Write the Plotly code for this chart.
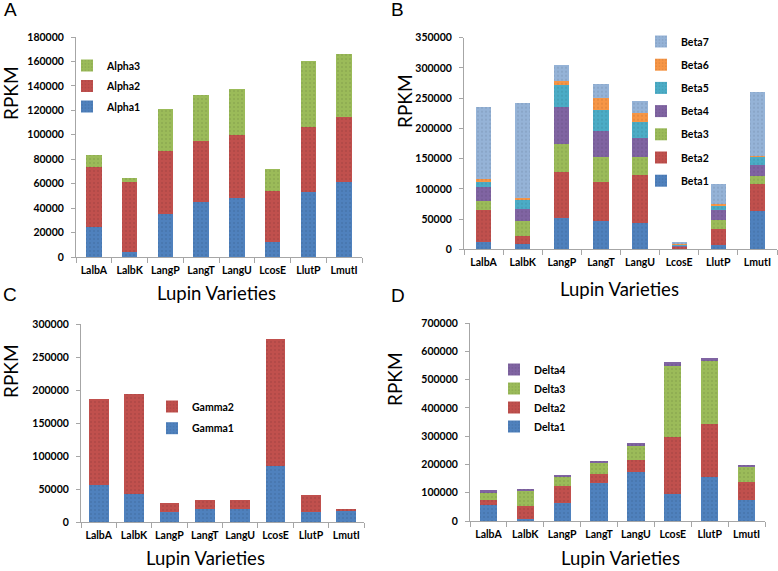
import plotly.graph_objects as go

varieties = ["LalbA", "LalbK", "LangP", "LangT", "LangU", "LcosE", "LlutP", "LmutI"]

# Panel A
alpha1 = [24500, 4000, 35500, 45300, 48300, 12300, 52900, 61400]
alpha2 = [49000, 57000, 51200, 49300, 51700, 41400, 53700, 53100]
alpha3 = [10200, 4000, 34100, 37900, 37700, 18000, 53800, 51300]

# Panel B
beta1 = [12700, 8300, 51300, 46300, 44000, 2000, 7000, 62800]
beta2 = [52300, 14300, 77100, 65700, 79500, 3000, 27000, 45800]
beta3 = [15000, 23700, 45800, 40700, 29200, 500, 14500, 13200]
beta4 = [23600, 20400, 60600, 43000, 30900, 2000, 16500, 18200]
beta5 = [8400, 16000, 37000, 34700, 26400, 500, 8300, 14400]
beta6 = [4000, 2300, 6600, 20400, 15000, 300, 1700, 600]
beta7 = [119000, 156500, 25900, 22600, 20300, 4500, 33000, 104600]

# Panel C
gamma1 = [56000, 42000, 15700, 19200, 19200, 85000, 15200, 17700]
gamma2 = [130000, 152700, 13600, 13700, 14200, 192000, 25300, 1000]

# Panel D
delta1 = [57600, 6000, 63500, 135300, 171800, 96500, 155300, 75300]
delta2 = [16400, 47000, 60000, 31700, 43500, 201100, 187100, 62300]
delta3 = [28000, 56400, 35300, 36500, 49400, 249400, 222300, 56400]
delta4 = [6000, 3600, 3600, 8300, 10600, 14000, 10600, 3600]

BLUE, RED, GREEN, PURPLE = "#4F81BD", "#C0504D", "#9BBB59", "#8064A2"
TEAL, ORANGE, LIGHT = "#4BACC6", "#F79646", "#95B3D7"

W, H = 778, 571
def px_x(x):
    return x / W
def px_y(y):
    return 1 - y / H

FONT = "Lato"
AXC = "#A6A6A6"

panels = [
    # suffix, x0, x1, ybottom, ytop, ymax, dtick, barwidth, legend
    ("", 76, 362, 257, 37, 180000, 20000, 0.43, "legend"),
    ("2", 464, 777, 249.3, 37.7, 350000, 50000, 0.39, "legend2"),
    ("3", 81, 364, 522, 324, 300000, 50000, 0.56, "legend3"),
    ("4", 470, 765, 521, 323, 700000, 100000, 0.47, "legend4"),
]

series = [
    [("Alpha1", alpha1, BLUE), ("Alpha2", alpha2, RED), ("Alpha3", alpha3, GREEN)],
    [("Beta1", beta1, BLUE), ("Beta2", beta2, RED), ("Beta3", beta3, GREEN),
     ("Beta4", beta4, PURPLE), ("Beta5", beta5, TEAL), ("Beta6", beta6, ORANGE),
     ("Beta7", beta7, LIGHT)],
    [("Gamma1", gamma1, BLUE), ("Gamma2", gamma2, RED)],
    [("Delta1", delta1, BLUE), ("Delta2", delta2, RED), ("Delta3", delta3, GREEN),
     ("Delta4", delta4, PURPLE)],
]

tickfont = dict(family=FONT, size=10.5, color="#000", weight="bold")

fig = go.Figure()
layout = {}
for (suf, x0, x1, yb, yt, ymax, dt, bw, leg), ser in zip(panels, series):
    for i, (name, vals, col) in enumerate(ser):
        fig.add_trace(go.Bar(
            x=varieties, y=vals, name=name, width=bw,
            marker=dict(color=col, line=dict(width=0),
                        pattern=dict(shape=".", fgcolor="#000000", fgopacity=0.09,
                                     size=4, solidity=0.2)),
            xaxis="x" + suf, yaxis="y" + suf, legend=leg, legendgroup=name,
            legendrank=100 - i,
        ))
    layout["xaxis" + suf] = dict(
        domain=[px_x(x0), px_x(x1)], anchor="y" + suf, type="category",
        range=[-0.5, 7.5], showline=True, linecolor=AXC, linewidth=1,
        ticks="outside", tickson="boundaries", ticklen=5, tickcolor=AXC,
        showgrid=False, zeroline=False, tickangle=0, automargin=False,
        ticklabelstandoff=3, tickfont=tickfont,
    )
    layout["yaxis" + suf] = dict(
        domain=[px_y(yb), px_y(yt)], anchor="x" + suf, range=[0, ymax],
        dtick=dt, tick0=0, tickformat="d", showline=True, linecolor=AXC,
        linewidth=1, ticks="outside", ticklen=4, tickcolor=AXC,
        showgrid=False, zeroline=False, automargin=False,
        ticklabelstandoff=5, tickfont=tickfont,
    )

legfont = dict(family=FONT, size=10.5, color="#000", weight="bold")
def mk_leg(x, y, gap):
    return dict(x=px_x(x), y=px_y(y), xanchor="left", yanchor="top",
                traceorder="grouped", tracegroupgap=gap,
                bgcolor="rgba(0,0,0,0)", font=legfont, itemwidth=30)

layout["legend"] = mk_leg(67, 51, 1.5)
layout["legend2"] = mk_leg(641, 27, 4.2)
layout["legend3"] = mk_leg(152, 392, 2.7)
layout["legend4"] = mk_leg(494, 355, 0)

ann = []
for t, x, y in [("A", 10, 9), ("B", 398, 9), ("C", 10, 294), ("D", 398, 296)]:
    ann.append(dict(text=t, x=px_x(x), y=px_y(y), xref="paper", yref="paper",
                    showarrow=False, xanchor="center", yanchor="middle",
                    font=dict(family="Liberation Sans", size=19, color="#000")))
for x, y in [(11, 93), (404, 101), (10, 371), (394, 379)]:
    ann.append(dict(text="RPKM", x=px_x(x), y=px_y(y), xref="paper", yref="paper",
                    showarrow=False, xanchor="center", yanchor="middle", textangle=-90,
                    font=dict(family=FONT, size=19, color="#000")))
for x, y in [(217, 293), (619, 289), (205, 558), (620, 558)]:
    ann.append(dict(text="Lupin Varieties", x=px_x(x), y=px_y(y), xref="paper", yref="paper",
                    showarrow=False, xanchor="center", yanchor="middle",
                    font=dict(family=FONT, size=18.5, color="#000")))

fig.update_layout(
    width=W, height=H, margin=dict(l=0, r=0, t=0, b=0, autoexpand=False),
    paper_bgcolor="white", plot_bgcolor="white",
    barmode="stack", showlegend=True, annotations=ann,
    **layout,
)

fig.write_html("out.html", config={"displayModeBar": False},
               post_script="document.body.style.margin='0px';")
